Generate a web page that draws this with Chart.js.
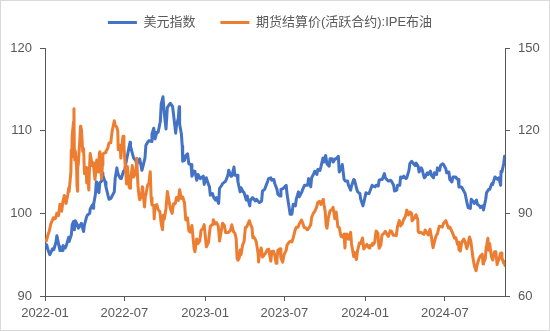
<!DOCTYPE html>
<html>
<head>
<meta charset="utf-8">
<script src="https://cdn.jsdelivr.net/npm/chart.js@4.4.1/dist/chart.umd.min.js"></script>
<style>
html,body{margin:0;padding:0;background:#fff;}
#wrap{width:550px;height:331px;position:relative;}
</style>
</head>
<body>
<div id="wrap"><canvas id="c" width="550" height="331"></canvas></div>
<script>
const seriesNames = ['美元指数', '期货结算价(活跃合约):IPE布油'];
const xTickLabels = ['2022-01', '2022-07', '2023-01', '2023-07', '2024-01', '2024-07'];
const leftTicks = [90, 100, 110, 120];
const rightTicks = [60, 90, 120, 150];

const dxyDates = [
 '2022-01-03','2022-01-05','2022-01-07','2022-01-12','2022-01-14','2022-01-18','2022-01-21','2022-01-26','2022-01-28',
 '2022-02-02','2022-02-04','2022-02-09','2022-02-11','2022-02-16','2022-02-18','2022-02-24','2022-02-25',
 '2022-03-02','2022-03-04','2022-03-07','2022-03-09','2022-03-11','2022-03-16','2022-03-18','2022-03-23','2022-03-25','2022-03-30',
 '2022-04-01','2022-04-06','2022-04-08','2022-04-13','2022-04-14','2022-04-19','2022-04-21','2022-04-22','2022-04-26','2022-04-28','2022-04-29',
 '2022-05-04','2022-05-06','2022-05-10','2022-05-12','2022-05-13','2022-05-18','2022-05-20','2022-05-25','2022-05-27','2022-05-31',
 '2022-06-03','2022-06-08','2022-06-10','2022-06-14','2022-06-15','2022-06-17','2022-06-22','2022-06-24','2022-06-29',
 '2022-07-01','2022-07-06','2022-07-08','2022-07-12','2022-07-14','2022-07-15','2022-07-20','2022-07-22','2022-07-27','2022-07-29',
 '2022-08-02','2022-08-05','2022-08-10','2022-08-12','2022-08-17','2022-08-19','2022-08-23','2022-08-26','2022-08-31',
 '2022-09-02','2022-09-06','2022-09-09','2022-09-13','2022-09-16','2022-09-21','2022-09-23','2022-09-27','2022-09-30',
 '2022-10-04','2022-10-07','2022-10-12','2022-10-14','2022-10-19','2022-10-21','2022-10-26','2022-10-28',
 '2022-11-01','2022-11-03','2022-11-04','2022-11-08','2022-11-10','2022-11-11','2022-11-15','2022-11-18','2022-11-22','2022-11-25','2022-11-30',
 '2022-12-02','2022-12-07','2022-12-09','2022-12-13','2022-12-16','2022-12-21','2022-12-23','2022-12-28','2022-12-30',
 '2023-01-04','2023-01-06','2023-01-11','2023-01-13','2023-01-18','2023-01-20','2023-01-25','2023-01-27',
 '2023-02-01','2023-02-03','2023-02-08','2023-02-10','2023-02-15','2023-02-17','2023-02-22','2023-02-24',
 '2023-03-01','2023-03-03','2023-03-08','2023-03-10','2023-03-15','2023-03-17','2023-03-22','2023-03-24','2023-03-29','2023-03-31',
 '2023-04-05','2023-04-07','2023-04-13','2023-04-14','2023-04-19','2023-04-21','2023-04-26','2023-04-28',
 '2023-05-03','2023-05-05','2023-05-10','2023-05-12','2023-05-17','2023-05-19','2023-05-24','2023-05-26','2023-05-31',
 '2023-06-02','2023-06-07','2023-06-09','2023-06-14','2023-06-16','2023-06-21','2023-06-23','2023-06-28','2023-06-30',
 '2023-07-05','2023-07-07','2023-07-12','2023-07-14','2023-07-18','2023-07-21','2023-07-26','2023-07-28',
 '2023-08-02','2023-08-04','2023-08-09','2023-08-11','2023-08-16','2023-08-18','2023-08-23','2023-08-25','2023-08-30',
 '2023-09-01','2023-09-06','2023-09-08','2023-09-13','2023-09-15','2023-09-20','2023-09-22','2023-09-27','2023-09-29',
 '2023-10-03','2023-10-06','2023-10-11','2023-10-13','2023-10-18','2023-10-20','2023-10-25','2023-10-27',
 '2023-11-01','2023-11-03','2023-11-08','2023-11-10','2023-11-14','2023-11-17','2023-11-22','2023-11-24','2023-11-29',
 '2023-12-01','2023-12-06','2023-12-08','2023-12-13','2023-12-15','2023-12-20','2023-12-22','2023-12-27','2023-12-29',
 '2024-01-03','2024-01-05','2024-01-10','2024-01-12','2024-01-17','2024-01-19','2024-01-24','2024-01-26','2024-01-31',
 '2024-02-02','2024-02-07','2024-02-09','2024-02-14','2024-02-16','2024-02-21','2024-02-23','2024-02-28',
 '2024-03-01','2024-03-06','2024-03-08','2024-03-13','2024-03-15','2024-03-20','2024-03-22','2024-03-27','2024-03-29',
 '2024-04-03','2024-04-05','2024-04-10','2024-04-12','2024-04-16','2024-04-19','2024-04-24','2024-04-26',
 '2024-05-01','2024-05-03','2024-05-08','2024-05-10','2024-05-15','2024-05-17','2024-05-22','2024-05-24','2024-05-29','2024-05-31',
 '2024-06-05','2024-06-07','2024-06-12','2024-06-14','2024-06-19','2024-06-21','2024-06-26','2024-06-28',
 '2024-07-03','2024-07-05','2024-07-10','2024-07-12','2024-07-17','2024-07-19','2024-07-24','2024-07-26','2024-07-31',
 '2024-08-02','2024-08-07','2024-08-09','2024-08-14','2024-08-16','2024-08-21','2024-08-23','2024-08-28','2024-08-30',
 '2024-09-04','2024-09-06','2024-09-11','2024-09-13','2024-09-18','2024-09-20','2024-09-25','2024-09-27',
 '2024-10-02','2024-10-04','2024-10-09','2024-10-11','2024-10-16','2024-10-18','2024-10-23','2024-10-25','2024-10-30',
 '2024-11-01','2024-11-05','2024-11-06','2024-11-08','2024-11-12','2024-11-14','2024-11-15'
];
const dxyValues = [
 96.2,96.2,95.7,95.0,95.2,95.7,95.6,96.5,97.3,
 96.0,95.5,95.5,96.1,95.8,96.0,97.1,96.6,
 97.4,98.6,99.0,98.0,99.1,98.6,98.2,98.6,98.8,97.8,
 98.6,99.6,99.8,100.0,100.5,101.0,100.6,101.1,102.3,103.8,103.0,
 102.5,103.7,103.9,104.9,104.6,103.8,103.2,102.1,101.7,101.8,
 102.1,102.6,104.2,105.5,105.1,104.7,104.2,104.2,105.1,
 105.1,106.5,107.0,108.1,108.6,108.1,107.1,106.7,106.4,105.9,
 106.3,106.6,105.2,105.6,106.7,108.2,108.6,108.8,108.7,
 109.6,110.3,109.0,109.8,109.8,111.1,113.2,114.1,112.1,
 110.2,112.8,113.2,113.3,112.9,112.0,109.7,110.7,
 111.5,112.9,110.8,109.6,108.1,106.3,106.4,107.0,107.2,106.0,105.9,
 104.5,105.1,105.0,104.0,104.7,104.2,104.3,104.5,103.5,
 104.3,103.9,103.2,102.2,102.4,102.0,101.6,101.9,
 101.2,103.0,103.4,103.6,103.8,103.9,104.6,105.2,
 104.5,104.5,105.6,104.6,104.6,103.8,102.6,103.1,102.6,102.5,
 101.6,102.1,100.9,101.5,101.9,101.8,101.5,101.7,
 101.4,101.3,101.5,102.7,102.9,103.2,103.9,104.2,104.3,
 104.0,104.1,103.6,102.9,102.3,102.1,102.9,103.0,103.0,
 103.4,102.3,100.6,99.9,99.9,101.1,100.9,101.7,
 102.6,102.0,102.5,102.8,103.4,103.4,103.4,104.2,103.2,
 104.3,104.8,105.1,104.7,105.3,105.2,105.6,106.7,106.2,
 107.0,106.0,105.7,106.6,106.6,106.2,106.6,106.6,
 106.9,105.0,105.5,105.9,104.1,103.9,103.9,103.4,102.8,
 103.3,104.1,104.0,102.9,102.6,102.4,101.7,100.9,101.3,
 102.5,102.4,102.4,102.4,103.4,103.3,103.2,103.4,103.3,
 104.0,104.1,104.1,104.8,104.3,104.0,103.9,104.0,
 103.9,103.4,102.7,102.8,103.4,103.4,104.4,104.3,104.5,
 104.2,104.3,105.2,106.0,106.3,106.1,105.8,106.1,
 105.7,105.0,105.5,105.3,104.3,104.4,104.9,104.7,105.1,104.6,
 104.3,104.9,104.7,105.5,105.2,105.8,106.0,105.9,
 105.4,104.9,105.0,104.1,103.8,104.4,104.4,104.3,104.1,
 103.2,103.2,103.1,102.6,102.4,101.1,100.7,100.6,101.7,
 101.4,101.2,101.6,101.1,100.9,100.7,100.9,100.4,
 101.7,102.5,102.9,102.9,103.6,103.5,104.4,104.3,104.1,
 104.3,103.4,105.1,105.0,106.0,106.9,106.7
];

const brentDates = [
 '2022-01-04','2022-01-07','2022-01-11','2022-01-14','2022-01-18','2022-01-20','2022-01-21','2022-01-25','2022-01-28',
 '2022-02-01','2022-02-04','2022-02-08','2022-02-11','2022-02-14','2022-02-16','2022-02-18','2022-02-22','2022-02-24','2022-02-25',
 '2022-03-01','2022-03-02','2022-03-03','2022-03-04','2022-03-07','2022-03-08','2022-03-09','2022-03-10','2022-03-11','2022-03-14','2022-03-15','2022-03-16','2022-03-17','2022-03-18','2022-03-21','2022-03-23','2022-03-24','2022-03-25','2022-03-28','2022-03-30',
 '2022-04-01','2022-04-05','2022-04-06','2022-04-08','2022-04-11','2022-04-12','2022-04-14','2022-04-19','2022-04-21','2022-04-22','2022-04-25','2022-04-27','2022-04-29',
 '2022-05-03','2022-05-05','2022-05-06','2022-05-10','2022-05-12','2022-05-13','2022-05-17','2022-05-19','2022-05-20','2022-05-24','2022-05-27','2022-05-31',
 '2022-06-03','2022-06-08','2022-06-10','2022-06-14','2022-06-16','2022-06-17','2022-06-21','2022-06-23','2022-06-24','2022-06-28','2022-06-30',
 '2022-07-01','2022-07-05','2022-07-06','2022-07-08','2022-07-12','2022-07-14','2022-07-15','2022-07-19','2022-07-21','2022-07-22','2022-07-26','2022-07-28','2022-07-29',
 '2022-08-01','2022-08-03','2022-08-05','2022-08-09','2022-08-11','2022-08-12','2022-08-16','2022-08-18','2022-08-19','2022-08-23','2022-08-26','2022-08-29','2022-08-31',
 '2022-09-02','2022-09-06','2022-09-07','2022-09-09','2022-09-13','2022-09-16','2022-09-20','2022-09-23','2022-09-26','2022-09-28','2022-09-30',
 '2022-10-04','2022-10-07','2022-10-11','2022-10-14','2022-10-18','2022-10-21','2022-10-25','2022-10-28',
 '2022-11-01','2022-11-04','2022-11-08','2022-11-11','2022-11-15','2022-11-18','2022-11-22','2022-11-25','2022-11-28',
 '2022-12-02','2022-12-07','2022-12-09','2022-12-13','2022-12-16','2022-12-20','2022-12-23','2022-12-27','2022-12-30',
 '2023-01-04','2023-01-06','2023-01-09','2023-01-11','2023-01-13','2023-01-17','2023-01-19','2023-01-20','2023-01-24','2023-01-27','2023-01-31',
 '2023-02-02','2023-02-03','2023-02-07','2023-02-10','2023-02-14','2023-02-17','2023-02-21','2023-02-24','2023-02-28',
 '2023-03-03','2023-03-07','2023-03-10','2023-03-13','2023-03-15','2023-03-17','2023-03-20','2023-03-22','2023-03-24','2023-03-28','2023-03-31',
 '2023-04-03','2023-04-06','2023-04-12','2023-04-14','2023-04-18','2023-04-20','2023-04-21','2023-04-25','2023-04-28',
 '2023-05-02','2023-05-03','2023-05-05','2023-05-09','2023-05-12','2023-05-16','2023-05-19','2023-05-23','2023-05-26','2023-05-31',
 '2023-06-02','2023-06-06','2023-06-09','2023-06-12','2023-06-14','2023-06-16','2023-06-21','2023-06-23','2023-06-27','2023-06-30',
 '2023-07-05','2023-07-07','2023-07-11','2023-07-14','2023-07-18','2023-07-21','2023-07-25','2023-07-28',
 '2023-08-01','2023-08-04','2023-08-09','2023-08-11','2023-08-15','2023-08-18','2023-08-22','2023-08-25','2023-08-30',
 '2023-09-01','2023-09-05','2023-09-08','2023-09-12','2023-09-15','2023-09-19','2023-09-22','2023-09-27','2023-09-28',
 '2023-10-02','2023-10-04','2023-10-06','2023-10-09','2023-10-13','2023-10-18','2023-10-20','2023-10-24','2023-10-27','2023-10-31',
 '2023-11-03','2023-11-07','2023-11-10','2023-11-14','2023-11-16','2023-11-17','2023-11-21','2023-11-24','2023-11-29',
 '2023-12-01','2023-12-06','2023-12-08','2023-12-12','2023-12-15','2023-12-19','2023-12-22','2023-12-26','2023-12-29',
 '2024-01-03','2024-01-05','2024-01-09','2024-01-11','2024-01-12','2024-01-16','2024-01-18','2024-01-19','2024-01-23','2024-01-25','2024-01-26','2024-01-30',
 '2024-02-01','2024-02-02','2024-02-06','2024-02-08','2024-02-09','2024-02-13','2024-02-16','2024-02-20','2024-02-23','2024-02-27',
 '2024-03-01','2024-03-05','2024-03-08','2024-03-12','2024-03-15','2024-03-19','2024-03-22','2024-03-26','2024-03-28',
 '2024-04-02','2024-04-05','2024-04-09','2024-04-12','2024-04-16','2024-04-17','2024-04-19','2024-04-23','2024-04-26','2024-04-30',
 '2024-05-01','2024-05-03','2024-05-07','2024-05-10','2024-05-14','2024-05-17','2024-05-21','2024-05-24','2024-05-28','2024-05-31',
 '2024-06-03','2024-06-04','2024-06-07','2024-06-11','2024-06-14','2024-06-18','2024-06-21','2024-06-25','2024-06-28',
 '2024-07-03','2024-07-05','2024-07-09','2024-07-12','2024-07-16','2024-07-19','2024-07-23','2024-07-26','2024-07-30',
 '2024-08-01','2024-08-02','2024-08-05','2024-08-08','2024-08-09','2024-08-13','2024-08-16','2024-08-20','2024-08-23','2024-08-26','2024-08-29',
 '2024-09-03','2024-09-06','2024-09-10','2024-09-13','2024-09-17','2024-09-20','2024-09-24','2024-09-26','2024-09-27',
 '2024-10-01','2024-10-03','2024-10-04','2024-10-07','2024-10-09','2024-10-11','2024-10-15','2024-10-18','2024-10-22','2024-10-25','2024-10-28','2024-10-31',
 '2024-11-01','2024-11-05','2024-11-07','2024-11-08','2024-11-12','2024-11-14','2024-11-15'
];
const brentValues = [
 80.0,81.75,83.72,86.06,87.51,88.38,87.89,88.20,90.03,
 89.16,93.27,90.78,94.44,96.48,94.81,93.54,96.84,99.08,97.93,
 104.97,112.93,110.46,118.11,123.21,127.98,111.14,109.33,112.67,106.90,99.91,98.02,106.64,107.93,115.62,121.60,119.03,120.65,112.48,113.45,
 104.39,106.64,101.07,102.78,98.48,104.64,111.70,107.25,108.33,106.65,102.32,105.32,109.34,
 104.97,111.90,112.39,102.46,107.45,111.55,111.93,112.04,112.55,113.56,115.56,115.60,
 119.72,123.58,122.01,121.17,119.81,113.12,114.65,110.05,113.12,117.98,114.81,
 111.63,102.77,100.69,107.02,99.49,99.10,101.16,107.35,103.86,103.20,104.40,107.14,110.01,
 100.03,96.78,94.92,96.31,99.60,98.15,92.34,96.59,96.72,100.22,100.99,105.09,95.64,
 93.02,92.83,88.00,92.84,93.17,91.35,90.62,86.15,84.06,89.32,87.96,
 91.80,97.92,94.29,91.63,89.99,93.50,93.52,95.77,
 94.65,98.57,95.36,95.99,93.86,87.62,88.36,83.63,83.19,
 85.57,77.17,76.10,80.68,79.04,79.99,83.92,84.33,85.91,
 77.84,78.57,79.65,82.67,85.28,85.92,86.16,87.63,86.13,86.66,85.46,
 82.17,79.94,83.69,86.39,85.58,83.00,83.05,83.16,83.89,
 85.83,83.29,82.78,80.77,73.69,72.97,73.79,76.69,74.99,78.65,79.77,
 84.93,85.12,87.33,86.31,84.77,81.10,81.66,80.77,79.54,
 75.32,72.33,75.30,77.44,74.17,74.91,75.58,76.84,76.95,72.66,
 76.13,76.29,74.79,71.84,73.20,76.61,77.12,73.85,72.26,74.90,
 76.65,78.47,79.40,79.87,79.63,81.07,83.64,84.99,
 84.91,86.24,87.55,86.81,84.89,84.80,84.03,84.48,85.86,
 88.55,90.04,90.65,92.06,93.93,94.34,93.27,95.00,94.00,
 90.71,85.81,84.58,88.15,90.89,91.50,92.16,88.07,90.48,85.02,
 84.89,81.61,81.43,82.47,77.42,80.61,82.45,80.58,83.10,
 78.88,74.30,75.84,73.24,76.55,79.23,79.07,81.07,77.04,
 78.25,78.76,77.59,77.41,78.29,78.29,79.10,78.56,79.55,82.43,83.55,82.87,
 78.70,77.33,78.59,81.63,82.19,82.77,83.47,82.34,81.62,83.65,
 83.55,82.04,82.08,81.92,85.34,87.38,85.43,86.25,87.48,
 88.92,91.17,89.42,90.45,90.02,87.29,87.29,88.42,89.50,87.86,
 83.44,82.96,83.16,82.79,82.38,83.98,82.88,82.12,84.22,81.62,
 78.36,77.52,79.62,81.92,82.62,85.33,85.24,85.01,86.41,
 87.34,86.54,84.66,85.03,83.73,82.63,81.01,81.13,78.63,
 79.52,76.81,76.30,79.16,79.66,80.69,79.68,77.20,79.02,81.43,79.94,
 73.75,71.06,69.19,71.61,73.70,74.49,75.17,71.60,71.98,
 73.56,77.62,78.05,80.93,76.58,79.04,74.25,73.06,76.04,76.05,71.42,73.16,
 73.10,75.53,75.63,73.87,71.89,72.56,71.04
];

function dayIndex(s) {
  const p = s.split('-').map(Number);
  return Math.round((Date.UTC(p[0], p[1] - 1, p[2] || 1) - Date.UTC(2022, 0, 1)) / 86400000);
}
function toPoints(dates, vals) {
  const n = Math.min(dates.length, vals.length);
  if (dates.length !== vals.length) console.error('length mismatch', dates.length, vals.length);
  const out = [];
  for (let i = 0; i < n; i++) out.push({x: dayIndex(dates[i]), y: vals[i]});
  return out;
}
const tickDays = xTickLabels.map(dayIndex);
const lastDay = dayIndex(dxyDates[dxyDates.length - 1]);

const AXIS = '#595959';
const FONT = '"Liberation Sans", Arial, "Noto Sans CJK SC", sans-serif';
Chart.defaults.font.family = FONT;
Chart.defaults.font.size = 13;
Chart.defaults.color = '#595959';

const borderPlugin = {
  id: 'outerBorder',
  afterLayout(chart) {
    const lg = chart.legend;
    if (lg) { lg.top -= 9; lg.bottom -= 9; lg.left -= 5; lg.right -= 5; }
  },
  afterDraw(chart) {
    const c = chart.ctx;
    c.save();
    c.strokeStyle = '#d9d9d9';
    c.lineWidth = 1;
    c.strokeRect(0.5, 0.5, chart.width - 1, chart.height - 1);
    c.restore();
  }
};

new Chart(document.getElementById('c'), {
  type: 'line',
  data: {
    datasets: [
      {label: seriesNames[0], data: toPoints(dxyDates, dxyValues), yAxisID: 'y', borderColor: '#4472C4', backgroundColor: '#4472C4', borderWidth: 3, pointRadius: 0, tension: 0, borderJoinStyle: 'round', borderCapStyle: 'round', order: 2},
      {label: seriesNames[1], data: toPoints(brentDates, brentValues), yAxisID: 'y1', borderColor: '#ED7D31', backgroundColor: '#ED7D31', borderWidth: 3, pointRadius: 0, tension: 0, borderJoinStyle: 'round', borderCapStyle: 'round', order: 1}
    ]
  },
  options: {
    responsive: false,
    animation: false,
    events: [],
    layout: {padding: {top: 0, left: 0, right: 0, bottom: 0}},
    plugins: {
      tooltip: {enabled: false},
      legend: {
        position: 'top',
        maxHeight: 50,
        labels: {
          boxWidth: 29,
          boxHeight: 3,
          padding: 25,
          color: '#595959',
          font: {size: 13, family: FONT},
          sort: (a, b) => a.datasetIndex - b.datasetIndex,
          generateLabels(chart) {
            const items = Chart.defaults.plugins.legend.labels.generateLabels(chart);
            items.forEach(it => { it.lineWidth = 0; it.strokeStyle = it.fillStyle; });
            return items;
          }
        }
      }
    },
    scales: {
      x: {
        type: 'linear',
        min: 0,
        max: lastDay,
        afterFit(s) { s.height = 35; },
        afterBuildTicks(s) { s.ticks = tickDays.map(v => ({value: v})); },
        ticks: {
          autoSkip: false, maxRotation: 0, padding: 5, color: '#595959',
          callback(v) { const i = tickDays.indexOf(v); return i >= 0 ? xTickLabels[i] : ''; }
        },
        grid: {drawOnChartArea: false, drawTicks: true, tickLength: 5, color: AXIS},
        border: {display: true, color: AXIS, width: 1}
      },
      y: {
        position: 'left',
        min: leftTicks[0], max: leftTicks[leftTicks.length - 1],
        afterFit(s) { s.width = 45; },
        afterBuildTicks(s) { s.ticks = leftTicks.map(v => ({value: v})); },
        ticks: {padding: 8, color: '#595959'},
        grid: {drawOnChartArea: false, drawTicks: true, tickLength: 5, color: AXIS},
        border: {display: true, color: AXIS, width: 1}
      },
      y1: {
        position: 'right',
        min: rightTicks[0], max: rightTicks[rightTicks.length - 1],
        afterFit(s) { s.width = 45; },
        afterBuildTicks(s) { s.ticks = rightTicks.map(v => ({value: v})); },
        ticks: {padding: 8, color: '#595959'},
        grid: {drawOnChartArea: false, drawTicks: true, tickLength: 5, color: AXIS},
        border: {display: true, color: AXIS, width: 1}
      }
    }
  },
  plugins: [borderPlugin]
});
</script>
</body>
</html>
